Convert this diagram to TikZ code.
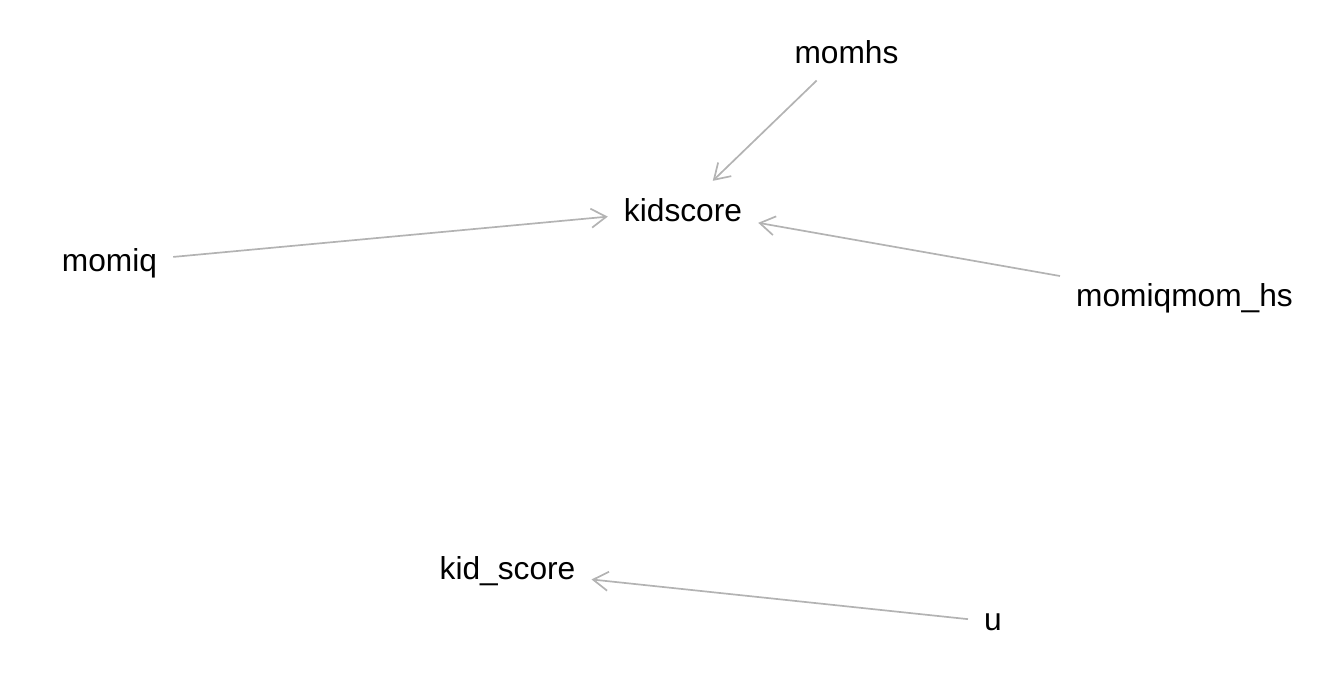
\documentclass[tikz,border=0pt]{standalone}
\usepackage{fontspec}
\setmainfont{Liberation Sans}
\usetikzlibrary{arrows.meta}
\definecolor{edgegray}{HTML}{B3B3B3}
\begin{document}
\begin{tikzpicture}[x=1pt, y=-1pt]
    \useasboundingbox (0,0) rectangle (1344,672);

    \begin{scope}[every node/.style={anchor=base, inner xsep=16pt, inner ysep=17pt, font=\fontsize{31.7}{38}\selectfont}]
        \node (momhs) at (846.5,63) {momhs};
        \node (kidscore) at (683,221) {kidscore};
        \node (momiq) at (109.5,271) {momiq};
        \node (momiqmomhs) at (1184.5,306) {momiqmom\_hs};
        \node (kid_score) at (507.5,579) {kid\_score};
        \node (u) at (993,630) {u};
    \end{scope}

    \begin{scope}[every edge/.style={draw, edgegray, line width=1.7pt, -{Straight Barb[length=15pt, width=19pt]}}]
        \path (momhs) edge (kidscore);
        \path (momiq) edge (kidscore);
        \path (momiqmomhs) edge (kidscore);
        \path (u) edge (kid_score);
    \end{scope}
\end{tikzpicture}
\end{document}
